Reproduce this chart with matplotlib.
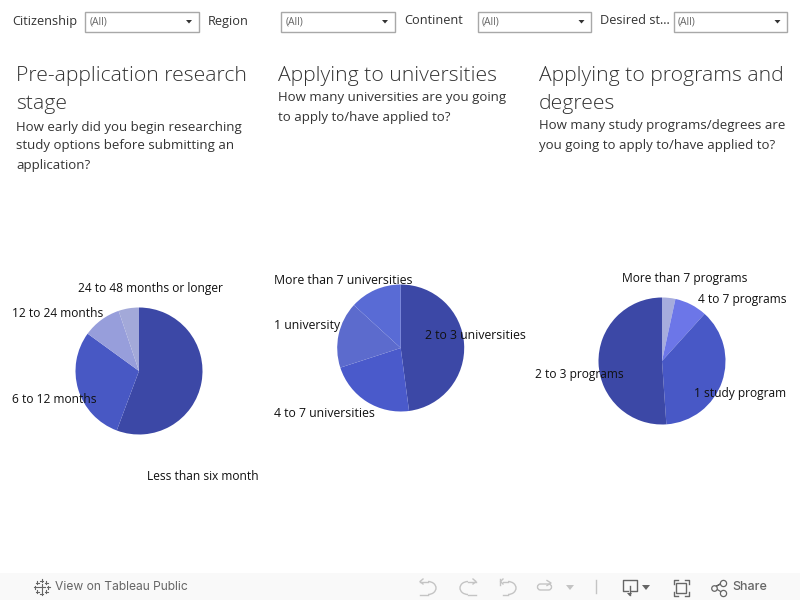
import matplotlib
matplotlib.use('Agg')
import matplotlib.pyplot as plt
from matplotlib.patches import Rectangle, Arc, Polygon, FancyBboxPatch

plt.rcParams['font.family'] = ['Open Sans', 'DejaVu Sans']

W, H = 800, 600

# filters
filter_names = ['Citizenship', 'Region', 'Continent', 'Desired st...']
filter_values = ['(All)', '(All)', '(All)', '(All)']

# pie data, clockwise from the top (percent)
labels_1 = ['Less than six month', '6 to 12 months', '12 to 24 months', '24 to 48 months or longer']
values_1 = [55.7, 29.3, 9.8, 5.2]
colors_1 = ['#3c48a6', '#4858c4', '#979edb', '#a3a9d9']

labels_2 = ['2 to 3 universities', '4 to 7 universities', '1 university', 'More than 7 universities']
values_2 = [47.9, 22.1, 16.8, 13.2]
colors_2 = ['#3c48a6', '#4a5acb', '#5c6bcd', '#596bd5']

labels_3 = ['More than 7 programs', '4 to 7 programs', '1 study program', '2 to 3 programs']
values_3 = [3.4, 8.3, 37.2, 51.1]
colors_3 = ['#a6acdd', '#6c76e8', '#4858c6', '#3c48a6']

# layout in pixels
filter_label_x = [12, 208, 404, 600]
filter_box_x = [85, 281, 477.5, 673.5]
centers = [(139, 371), (400.7, 348), (662, 361)]
radius = 63.5
label_pos_1 = [(147, 476.5), (12, 399.5), (12, 313.5), (78, 288.5)]
label_pos_2 = [(425, 335.5), (274, 413.5), (274, 325.5), (274, 280.5)]
label_pos_3 = [(622, 278.5), (698, 299.5), (694, 393.5), (535, 374.5)]
label_sizes = [8.65, 8.85, 8.65]

fig = plt.figure(figsize=(W / 100, H / 100), dpi=100, facecolor='white')

# overlay in pixel coordinates for everything that is not a pie
bg = fig.add_axes([0, 0, 1, 1], zorder=0)
bg.set_xlim(0, W)
bg.set_ylim(H, 0)
bg.axis('off')
top = fig.add_axes([0, 0, 1, 1], zorder=5)
top.set_xlim(0, W)
top.set_ylim(H, 0)
top.axis('off')
top.patch.set_alpha(0)

# filters row
for name, val, lx, bx in zip(filter_names, filter_values, filter_label_x, filter_box_x):
    top.text(lx, 21, name, fontsize=9.2, color='#333333', va='center')
    top.add_patch(Rectangle((bx, 12), 113.5, 19.5, fc='white', ec='#a8a8a8', lw=1))
    top.text(bx + 4.5, 22.5, val, fontsize=7.5, color='#666666', va='center')
    top.add_patch(Polygon([(bx + 101, 20), (bx + 107, 20), (bx + 104, 23.5)], fc='#333333', ec='none'))

# headings
title_kw = dict(fontsize=15.2, color='#333333', va='center', fontweight='light')
sub_kw = dict(fontsize=9.55, color='#333333', va='center')
top.text(16, 76.5, 'Pre-application research', **title_kw)
top.text(16, 104.5, 'stage', **title_kw)
top.text(16, 127, 'How early did you begin researching', **sub_kw)
top.text(16, 146, 'study options before submitting an', **sub_kw)
top.text(16, 165, 'application?', **sub_kw)

top.text(278, 75.5, 'Applying to universities', **title_kw)
top.text(278, 98, 'How many universities are you going', **sub_kw)
top.text(278, 117, 'to apply to/have applied to?', **sub_kw)

top.text(539, 75.5, 'Applying to programs and', **title_kw)
top.text(539, 103.5, 'degrees', **title_kw)
top.text(539, 126, 'How many study programs/degrees are', **sub_kw)
top.text(539, 145, 'you going to apply to/have applied to?', **sub_kw)

# pies
pies = [(values_1, colors_1, labels_1, label_pos_1),
        (values_2, colors_2, labels_2, label_pos_2),
        (values_3, colors_3, labels_3, label_pos_3)]
for (cx, cy), (vals, cols, labs, pos), size in zip(centers, pies, label_sizes):
    ax = fig.add_axes([(cx - radius) / W, 1 - (cy + radius) / H, 2 * radius / W, 2 * radius / H], zorder=2)
    ax.pie(vals, colors=cols, startangle=90, counterclock=False, radius=1,
           wedgeprops=dict(linewidth=0))
    ax.set_xlim(-1, 1)
    ax.set_ylim(-1, 1)
    for lab, (x, y) in zip(labs, pos):
        top.text(x, y, lab, fontsize=size, color='#111111', va='center')

# toolbar
bg.add_patch(Rectangle((0, 573), W, 27, fc='#f9f9f9', ec='none'))
gray = '#666666'
pale = '#c4c4c4'

# tableau logo
for dx, dy, s in [(0, 0, 3.5), (-6.5, 0, 1.5), (6.5, 0, 1.5), (0, -6.5, 1.5), (0, 6.5, 1.5),
                  (-4.5, -4.5, 1.5), (4.5, -4.5, 1.5), (-4.5, 4.5, 1.5), (4.5, 4.5, 1.5)]:
    x, y = 41.5 + dx, 587 + dy
    top.plot([x - s, x + s], [y, y], color=gray, lw=0.8)
    top.plot([x, x], [y - s, y + s], color=gray, lw=0.8)
top.text(55, 587, 'View on Tableau Public', fontsize=8.7, color=gray, va='center', family=['Inter', 'DejaVu Sans'])

# undo, redo, reset, refresh
top.add_patch(Arc((428, 588), 16, 13, theta1=-90, theta2=90, color=pale, lw=1))
top.plot([420, 428], [581.5, 581.5], color=pale, lw=1)
top.plot([428, 420], [594.5, 594.5], color=pale, lw=1)
top.plot([423, 420, 423], [579, 581.5, 584], color=pale, lw=1)
top.add_patch(Arc((468, 588), 16, 13, theta1=90, theta2=270, color=pale, lw=1))
top.plot([468, 476], [581.5, 581.5], color=pale, lw=1)
top.plot([468, 476], [594.5, 594.5], color=pale, lw=1)
top.plot([473, 476, 473], [579, 581.5, 584], color=pale, lw=1)
top.add_patch(Arc((508, 588), 16, 13, theta1=-90, theta2=90, color=pale, lw=1))
top.plot([503, 508], [581.5, 581.5], color=pale, lw=1)
top.plot([508, 503], [594.5, 594.5], color=pale, lw=1)
top.plot([503, 500.5, 503], [579, 581.5, 584], color=pale, lw=1)
top.plot([500, 500], [579, 585], color=pale, lw=1)
top.add_patch(FancyBboxPatch((537.5, 584), 14, 6, boxstyle='round,pad=0,rounding_size=3', fc='none', ec=pale, lw=1))
top.plot([547, 551, 547], [580.5, 583, 585.5], color=pale, lw=1)
top.add_patch(Polygon([(566, 585), (574, 585), (570, 590)], fc=pale, ec='none'))
top.plot([595.5, 595.5], [580, 593], color=pale, lw=1)

# download
top.plot([628, 622.5, 622.5, 636.5, 636.5, 631], [591, 591, 580, 580, 591, 591], color=gray, lw=1)
top.plot([629.5, 629.5], [586, 595], color=gray, lw=1)
top.add_patch(Polygon([(627, 593), (632, 593), (629.5, 596)], fc=gray, ec='none'))
top.add_patch(Polygon([(642, 585), (650, 585), (646, 590)], fc=gray, ec='none'))

# fullscreen
top.add_patch(Rectangle((676, 582.5), 10, 10, fc='none', ec=gray, lw=1))
for x0, sx in [(673.5, 1), (688.5, -1)]:
    for y0, sy in [(579.5, 1), (595.5, -1)]:
        top.plot([x0 + 4 * sx, x0, x0], [y0, y0, y0 + 4 * sy], color=gray, lw=1)

# share
top.plot([714, 723, 714, 723], [587.5, 582.5, 587.5, 593], color=gray, lw=0.9)
for x, y, s in [(714, 587.5, 16), (723, 582.5, 20), (723, 593, 20)]:
    top.scatter([x], [y], s=s, fc='#f9f9f9', ec=gray, lw=0.9, zorder=3)
top.text(732, 587.5, 'Share', fontsize=9, color=gray, va='center', fontweight='medium', family=['Inter', 'DejaVu Sans'])

fig.savefig('out.png', dpi=100)
